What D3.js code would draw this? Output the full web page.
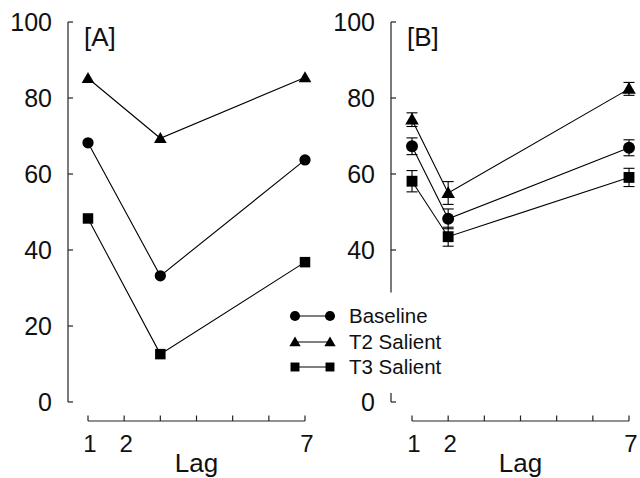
<!DOCTYPE html>
<html>
<head>
<meta charset="utf-8">
<script src="https://cdn.jsdelivr.net/npm/d3@7"></script>
<style>
  html, body { margin: 0; padding: 0; background: #fff; }
  svg { display: block; font-family: "Liberation Sans", Arial, sans-serif; }
</style>
</head>
<body>
<svg id="chart" width="640" height="478"></svg>
<script>
// ---- data ----
const seriesNames = ["Baseline", "T2 Salient", "T3 Salient"];
const yTicks = [0, 20, 40, 60, 80, 100];
const yTicksB = [0, 40, 60, 80, 100];
const xTicks = [1, 2, 3, 4, 5, 6, 7];
const xTickLabels = ["1", "2", "", "", "", "", "7"];

const lagsA = [1, 3, 7];
const baselineA = [68.2, 33.2, 63.7];
const t2A = [85.2, 69.4, 85.4];
const t3A = [48.3, 12.6, 36.8];

const lagsB = [1, 2, 7];
const baselineB = [67.3, 48.2, 66.9];
const baselineBErr = [2.2, 2.6, 2.1];
const t2B = [74.3, 55.0, 82.4];
const t2BErr = [1.8, 3.0, 1.7];
const t3B = [58.1, 43.5, 59.1];
const t3BErr = [2.8, 2.5, 2.4];

// ---- drawing ----
const svg = d3.select("#chart");
const ink = "#000";
const axisInk = "#222";

const y = d3.scaleLinear().domain([0, 100]).range([402, 22]);
const xA = d3.scaleLinear().domain([1, 7]).range([88, 305]);
const xB = d3.scaleLinear().domain([1, 7]).range([412, 629]);

const shapes = [d3.symbolCircle, d3.symbolTriangle, d3.symbolSquare];
const sizes = [100, 70, 110];
const sizesB = [112, 80, 118];
const legendSizes = [80, 55, 80];

function yAxis(x0, ticks, label, broken) {
  const g = svg.append("g").attr("transform", `translate(${x0},0)`);
  if (broken) {
    g.append("line").attr("x1", 0).attr("x2", 0)
      .attr("y1", y(100)).attr("y2", y(28.8))
      .attr("stroke", axisInk).attr("stroke-width", 1.2);
    g.append("line").attr("x1", 0).attr("x2", 0)
      .attr("y1", y(2.4)).attr("y2", y(0))
      .attr("stroke", axisInk).attr("stroke-width", 1.2);
  } else {
    g.append("line").attr("x1", 0).attr("x2", 0)
      .attr("y1", y(100)).attr("y2", y(0))
      .attr("stroke", axisInk).attr("stroke-width", 1.2);
  }
  ticks.forEach(t => {
    g.append("line").attr("x1", 0).attr("x2", 5)
      .attr("y1", y(t)).attr("y2", y(t))
      .attr("stroke", axisInk).attr("stroke-width", 1.2);
    g.append("text").attr("x", -16).attr("y", y(t)).attr("dy", "0.36em")
      .attr("text-anchor", "end").attr("font-size", 25).attr("fill", "#111")
      .text(t);
  });
  svg.append("text").attr("x", x0 + 16).attr("y", 46)
    .attr("font-size", 26).attr("fill", "#111").text(label);
}

function xAxis(x) {
  const g = svg.append("g");
  const y0 = 421;
  g.append("line").attr("x1", x(1)).attr("x2", x(7))
    .attr("y1", y0).attr("y2", y0)
    .attr("stroke", axisInk).attr("stroke-width", 1.2);
  xTicks.forEach((t, i) => {
    g.append("line").attr("x1", x(t)).attr("x2", x(t))
      .attr("y1", y0).attr("y2", y0 - 5.5)
      .attr("stroke", axisInk).attr("stroke-width", 1.2);
    if (xTickLabels[i]) {
      g.append("text").attr("x", x(t) + 2).attr("y", 452)
        .attr("text-anchor", "middle").attr("font-size", 24).attr("fill", "#111")
        .text(xTickLabels[i]);
    }
  });
  g.append("text").attr("x", (x(1) + x(7)) / 2).attr("y", 472)
    .attr("text-anchor", "middle").attr("font-size", 26).attr("fill", "#111")
    .text("Lag");
}

function series(x, lags, vals, si, errs, sz) {
  const line = d3.line().x((d, i) => x(lags[i])).y(d => y(d));
  svg.append("path").datum(vals).attr("d", line)
    .attr("fill", "none").attr("stroke", ink).attr("stroke-width", 1.1);
  if (errs) {
    vals.forEach((v, i) => {
      const cx = x(lags[i]);
      const g = svg.append("g").attr("stroke", ink).attr("stroke-width", 1.1);
      g.append("line").attr("x1", cx).attr("x2", cx)
        .attr("y1", y(v - errs[i])).attr("y2", y(v + errs[i]));
      [v - errs[i], v + errs[i]].forEach(e => {
        g.append("line").attr("x1", cx - 5.5).attr("x2", cx + 5.5)
          .attr("y1", y(e)).attr("y2", y(e));
      });
    });
  }
  vals.forEach((v, i) => {
    const dy = si === 1 ? 1 : 0;
    svg.append("path")
      .attr("d", d3.symbol().type(shapes[si]).size(sz[si])())
      .attr("transform", `translate(${x(lags[i])},${y(v) + dy})`)
      .attr("fill", ink);
  });
}

yAxis(68, yTicks, "[A]", false);
yAxis(391, yTicksB, "[B]", true);
xAxis(xA);
xAxis(xB);

[baselineA, t2A, t3A].forEach((s, i) => series(xA, lagsA, s, i, null, sizes));
[[baselineB, baselineBErr], [t2B, t2BErr], [t3B, t3BErr]]
  .forEach(([s, e], i) => series(xB, lagsB, s, i, e, sizesB));

// legend
const legendY = [316, 342, 367];
seriesNames.forEach((name, i) => {
  const ly = legendY[i];
  svg.append("line").attr("x1", 295).attr("x2", 330)
    .attr("y1", ly).attr("y2", ly)
    .attr("stroke", ink).attr("stroke-width", 1.1);
  [295, 330].forEach(lx => {
    svg.append("path")
      .attr("d", d3.symbol().type(shapes[i]).size(legendSizes[i])())
      .attr("transform", `translate(${lx},${ly + (i === 1 ? 1 : 0)})`)
      .attr("fill", ink);
  });
  svg.append("text").attr("x", 349).attr("y", ly + 7)
    .attr("font-size", 20.5).attr("fill", "#111").text(name);
});
</script>
</body>
</html>
